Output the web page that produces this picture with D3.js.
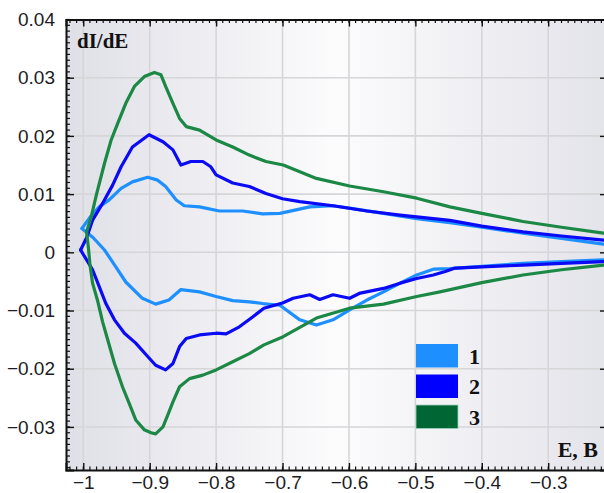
<!DOCTYPE html>
<html>
<head>
<meta charset="utf-8">
<script src="https://cdn.jsdelivr.net/npm/d3@7"></script>
<style>
    body { margin: 0; background: #fff; }
    svg { display: block; }
</style>
</head>
<body>
<div id="chart"></div>
<script>
// readings: [E, dI/dE]
const s1Upper = [[-1.002, 0.0041], [-0.990, 0.0060], [-0.976, 0.0078], [-0.961, 0.0090], [-0.943, 0.0110], [-0.926, 0.0121], [-0.903, 0.0129], [-0.888, 0.0124], [-0.876, 0.0113], [-0.860, 0.0090], [-0.848, 0.0080], [-0.825, 0.0078], [-0.795, 0.0071], [-0.760, 0.0071], [-0.730, 0.0066], [-0.704, 0.0067], [-0.659, 0.0078], [-0.624, 0.0080], [-0.599, 0.0076], [-0.548, 0.0067], [-0.498, 0.0058], [-0.448, 0.0051], [-0.400, 0.0043], [-0.338, 0.0033], [-0.280, 0.0024], [-0.217, 0.0014]];
const s1Lower = [[-1.002, 0.0041], [-0.985, 0.0025], [-0.968, 0.0004], [-0.951, -0.0025], [-0.936, -0.0051], [-0.911, -0.0079], [-0.891, -0.0089], [-0.871, -0.0082], [-0.853, -0.0064], [-0.825, -0.0068], [-0.800, -0.0076], [-0.775, -0.0083], [-0.750, -0.0085], [-0.730, -0.0088], [-0.704, -0.0091], [-0.674, -0.0116], [-0.649, -0.0125], [-0.624, -0.0116], [-0.599, -0.0099], [-0.573, -0.0082], [-0.548, -0.0068], [-0.523, -0.0053], [-0.498, -0.0039], [-0.473, -0.0029], [-0.448, -0.0028], [-0.400, -0.0024], [-0.338, -0.0019], [-0.280, -0.0016], [-0.217, -0.0013]];
const s2Upper = [[-1.004, 0.0004], [-0.995, 0.0025], [-0.986, 0.0055], [-0.971, 0.0084], [-0.956, 0.0115], [-0.943, 0.0147], [-0.926, 0.0181], [-0.901, 0.0202], [-0.880, 0.0190], [-0.865, 0.0176], [-0.853, 0.0150], [-0.838, 0.0156], [-0.820, 0.0156], [-0.808, 0.0147], [-0.800, 0.0133], [-0.775, 0.0119], [-0.750, 0.0113], [-0.725, 0.0101], [-0.700, 0.0092], [-0.674, 0.0087], [-0.624, 0.0080], [-0.573, 0.0071], [-0.523, 0.0064], [-0.448, 0.0055], [-0.400, 0.0045], [-0.338, 0.0035], [-0.280, 0.0028], [-0.217, 0.0021]];
const s2Lower = [[-1.004, 0.0004], [-0.986, -0.0030], [-0.976, -0.0059], [-0.966, -0.0088], [-0.953, -0.0116], [-0.938, -0.0139], [-0.921, -0.0156], [-0.903, -0.0179], [-0.891, -0.0194], [-0.876, -0.0202], [-0.865, -0.0191], [-0.855, -0.0162], [-0.845, -0.0148], [-0.825, -0.0142], [-0.800, -0.0139], [-0.785, -0.0140], [-0.765, -0.0128], [-0.745, -0.0111], [-0.728, -0.0096], [-0.700, -0.0087], [-0.684, -0.0079], [-0.659, -0.0073], [-0.644, -0.0081], [-0.624, -0.0073], [-0.599, -0.0079], [-0.583, -0.0070], [-0.548, -0.0062], [-0.523, -0.0053], [-0.498, -0.0045], [-0.473, -0.0039], [-0.455, -0.0033], [-0.440, -0.0027], [-0.400, -0.0025], [-0.338, -0.0022], [-0.280, -0.0019], [-0.217, -0.0016]];
const s3Upper = [[-0.995, 0.0035], [-0.988, 0.0061], [-0.980, 0.0100], [-0.968, 0.0153], [-0.958, 0.0193], [-0.948, 0.0222], [-0.936, 0.0256], [-0.923, 0.0285], [-0.908, 0.0302], [-0.893, 0.0309], [-0.883, 0.0305], [-0.876, 0.0285], [-0.865, 0.0256], [-0.855, 0.0230], [-0.845, 0.0216], [-0.825, 0.0210], [-0.800, 0.0193], [-0.775, 0.0181], [-0.750, 0.0167], [-0.725, 0.0156], [-0.699, 0.0150], [-0.649, 0.0127], [-0.599, 0.0114], [-0.548, 0.0104], [-0.498, 0.0093], [-0.448, 0.0078], [-0.400, 0.0067], [-0.338, 0.0053], [-0.280, 0.0043], [-0.217, 0.0033]];
const s3Lower = [[-0.995, 0.0035], [-0.992, 0.0005], [-0.990, -0.0020], [-0.986, -0.0053], [-0.978, -0.0085], [-0.971, -0.0119], [-0.963, -0.0151], [-0.953, -0.0191], [-0.941, -0.0231], [-0.931, -0.0259], [-0.921, -0.0288], [-0.908, -0.0305], [-0.898, -0.0310], [-0.891, -0.0312], [-0.880, -0.0300], [-0.873, -0.0280], [-0.865, -0.0257], [-0.855, -0.0231], [-0.840, -0.0217], [-0.820, -0.0211], [-0.800, -0.0202], [-0.775, -0.0188], [-0.750, -0.0174], [-0.728, -0.0159], [-0.699, -0.0145], [-0.649, -0.0113], [-0.599, -0.0096], [-0.548, -0.0089], [-0.498, -0.0076], [-0.463, -0.0068], [-0.400, -0.0052], [-0.338, -0.0039], [-0.280, -0.0030], [-0.217, -0.0022]];

const seriesNames = ["1", "2", "3"];
const seriesColors = ["#1e8fff", "#0a0af5", "#1c8845"];
const legendColors = ["#1e8fff", "#0000ff", "#006633"];
const xTicks = [-1, -0.9, -0.8, -0.7, -0.6, -0.5, -0.4, -0.3];
const yTicks = [-0.03, -0.02, -0.01, 0, 0.01, 0.02, 0.03, 0.04];

const totalWidth = 604, totalHeight = 493;
const mLeft = 66, mRight = 608, mTop = 19.5, mBottom = 470;

let svg = d3.select("#chart").append("svg")
        .attr("width", totalWidth)
        .attr("height", totalHeight);

let xScale = d3.scaleLinear().domain([-1.026, -0.21]).range([mLeft, mRight]);
let yScale = d3.scaleLinear().domain([-0.0374, 0.04]).range([mBottom, mTop]);

let defs = svg.append("defs");
let grad = defs.append("linearGradient").attr("id", "bg").attr("x1", "0").attr("x2", "1").attr("y1", "0").attr("y2", "0");
grad.append("stop").attr("offset", "0").attr("stop-color", "#dfdfe7");
grad.append("stop").attr("offset", "0.5").attr("stop-color", "#fcfcfd");
grad.append("stop").attr("offset", "1").attr("stop-color", "#e3e3ea");
defs.append("clipPath").attr("id", "plotClip")
        .append("rect").attr("x", mLeft).attr("y", mTop).attr("width", mRight - mLeft).attr("height", mBottom - mTop);

svg.append("rect")
        .attr("x", mLeft).attr("y", mTop)
        .attr("width", mRight - mLeft).attr("height", mBottom - mTop)
        .attr("fill", "url(#bg)");

// grid
let grid = svg.append("g").attr("stroke", "#d6d6d8").attr("stroke-width", 1.6);
grid.selectAll("line.gx").data(xTicks).enter().append("line")
        .attr("x1", d => xScale(d)).attr("x2", d => xScale(d))
        .attr("y1", mTop).attr("y2", mBottom);
grid.selectAll("line.gy").data(yTicks.filter(d => d < 0.04)).enter().append("line")
        .attr("y1", d => yScale(d)).attr("y2", d => yScale(d))
        .attr("x1", mLeft).attr("x2", mRight);

// curves
let line = d3.line().x(d => xScale(d[0])).y(d => yScale(d[1])).curve(d3.curveLinear);
let curves = [[s1Upper, s1Lower], [s2Upper, s2Lower], [s3Upper, s3Lower]];
let plot = svg.append("g").attr("clip-path", "url(#plotClip)");
curves.forEach(function (branches, i) {
    branches.forEach(function (b) {
        plot.append("path")
                .datum(b)
                .attr("d", line)
                .attr("fill", "none")
                .attr("stroke", seriesColors[i])
                .attr("stroke-width", 3.2)
                .attr("stroke-linejoin", "round")
                .attr("stroke-linecap", "round");
    });
});

// axes with inward ticks
function minor(domain, step) {
    let out = [];
    let start = Math.ceil(domain[0] / step - 1e-6);
    let end = Math.floor(domain[1] / step + 1e-6);
    for (let k = start; k <= end; k += 1) {
        out.push(k * step);
    }
    return out;
}
let xMinor = minor(xScale.domain(), 0.01);
let yMinor = minor(yScale.domain(), 0.001);

let xAxisB = d3.axisBottom(xScale).tickValues(xTicks).tickSize(-7).tickFormat(d3.format("")).tickPadding(6);
let xAxisT = d3.axisTop(xScale).tickValues(xTicks).tickSize(-7).tickFormat("");
let yAxisL = d3.axisLeft(yScale).tickValues(yTicks).tickSize(-8).tickFormat(d => d === 0 ? "0" : d3.format(".2f")(d)).tickPadding(11);
let yAxisR = d3.axisRight(yScale).tickValues(yTicks).tickSize(-8).tickFormat("");

function styleAxis(g) {
    g.select(".domain").attr("stroke", "#111").attr("stroke-width", 2);
    g.selectAll(".tick line").attr("stroke", "#111").attr("stroke-width", 1.4);
    g.selectAll("text").attr("font-family", "'Liberation Sans', Arial, sans-serif")
            .attr("font-size", 19).attr("fill", "#1c1c24");
}

svg.append("g").attr("transform", "translate(0," + mBottom + ")").call(xAxisB).call(styleAxis);
svg.append("g").attr("transform", "translate(0," + mTop + ")").call(xAxisT).call(styleAxis);
svg.append("g").attr("transform", "translate(" + mLeft + ",0)").call(yAxisL).call(styleAxis);
svg.append("g").attr("transform", "translate(" + mRight + ",0)").call(yAxisR).call(styleAxis);

let minorG = svg.append("g").attr("stroke", "#111").attr("stroke-width", 1.2);
minorG.selectAll("line.mxb").data(xMinor).enter().append("line")
        .attr("x1", d => xScale(d)).attr("x2", d => xScale(d))
        .attr("y1", mBottom).attr("y2", mBottom - 3.5);
minorG.selectAll("line.mxt").data(xMinor).enter().append("line")
        .attr("x1", d => xScale(d)).attr("x2", d => xScale(d))
        .attr("y1", mTop).attr("y2", mTop + 3.5);
minorG.selectAll("line.myl").data(yMinor).enter().append("line")
        .attr("y1", d => yScale(d)).attr("y2", d => yScale(d))
        .attr("x1", mLeft).attr("x2", mLeft + 4);
minorG.selectAll("line.myr").data(yMinor).enter().append("line")
        .attr("y1", d => yScale(d)).attr("y2", d => yScale(d))
        .attr("x1", mRight).attr("x2", mRight - 4);

// axis titles
svg.append("text")
        .attr("x", 77).attr("y", 48)
        .attr("font-family", "'Liberation Serif', 'Times New Roman', serif")
        .attr("font-weight", "bold").attr("font-size", 21)
        .attr("fill", "#111")
        .text("dI/dE");
svg.append("text")
        .attr("x", 598).attr("y", 457)
        .attr("text-anchor", "end")
        .attr("font-family", "'Liberation Serif', 'Times New Roman', serif")
        .attr("font-weight", "bold").attr("font-size", 22)
        .attr("fill", "#111")
        .text("E, B");

// legend
let legend = svg.append("g");
seriesNames.forEach(function (name, i) {
    let y0 = 344 + i * 30.5;
    legend.append("rect")
            .attr("x", 416).attr("y", y0)
            .attr("width", 42).attr("height", 23.5)
            .attr("fill", legendColors[i])
            .attr("stroke", "#9fd0c0").attr("stroke-width", i === 2 ? 0.8 : 0);
    legend.append("text")
            .attr("x", 469).attr("y", y0 + 19.5)
            .attr("font-family", "'Liberation Serif', 'Times New Roman', serif")
            .attr("font-weight", "bold").attr("font-size", 22)
            .attr("fill", "#111")
            .text(name);
});
</script>
</body>
</html>
